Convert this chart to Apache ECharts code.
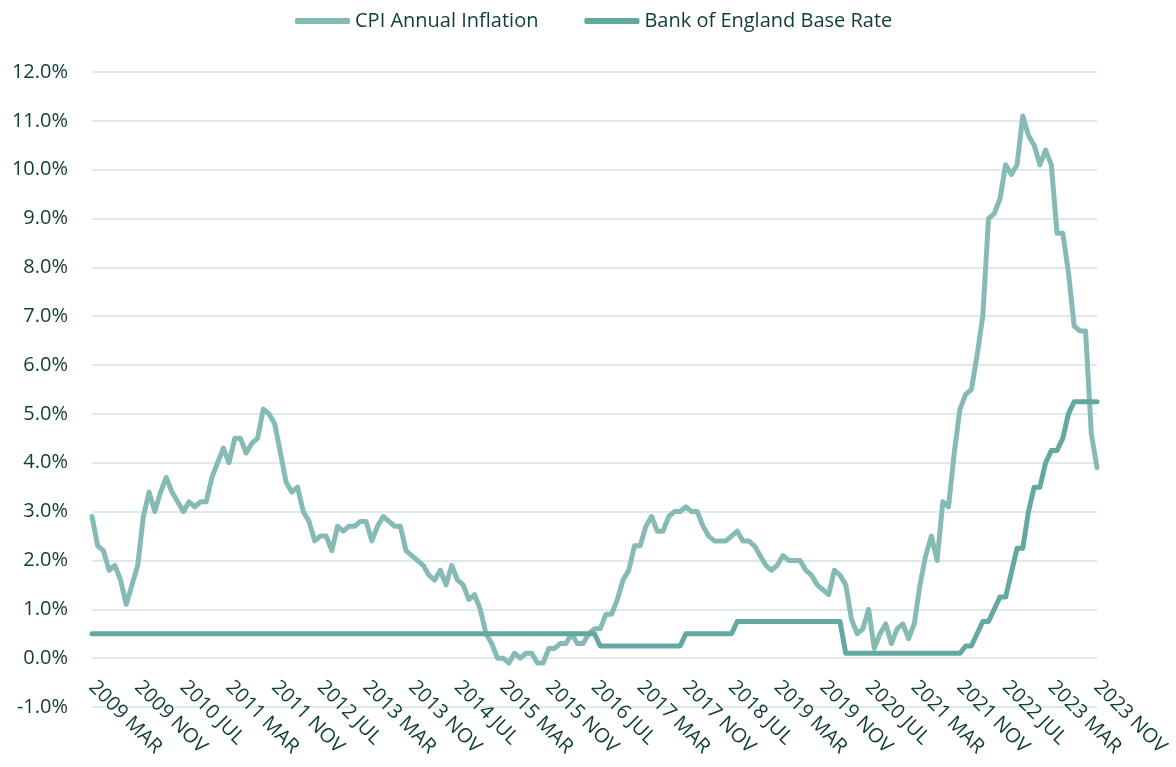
<!DOCTYPE html>
<html>
<head>
<meta charset="utf-8">
<script src="https://cdn.jsdelivr.net/npm/echarts@6/dist/echarts.min.js"></script>
<style>
  html, body { margin: 0; padding: 0; background: #fff; }
  #main { width: 1176px; height: 767px; }
</style>
</head>
<body>
<div id="main"></div>
<script>
// monthly, 2009 MAR .. 2023 NOV
const monthNames = ['JAN', 'FEB', 'MAR', 'APR', 'MAY', 'JUN', 'JUL', 'AUG', 'SEP', 'OCT', 'NOV', 'DEC'];
const startYear = 2009, startMonth = 2, monthCount = 177;

// CPI annual inflation, %
const cpiInflation = [
  2.9, 2.3, 2.2, 1.8, 1.9, 1.6, 1.1, 1.5, 1.9, 2.9,                // 2009 Mar-Dec
  3.4, 3.0, 3.4, 3.7, 3.4, 3.2, 3.0, 3.2, 3.1, 3.2, 3.2, 3.7,      // 2010
  4.0, 4.3, 4.0, 4.5, 4.5, 4.2, 4.4, 4.5, 5.1, 5.0, 4.8, 4.2,      // 2011
  3.6, 3.4, 3.5, 3.0, 2.8, 2.4, 2.5, 2.5, 2.2, 2.7, 2.6, 2.7,      // 2012
  2.7, 2.8, 2.8, 2.4, 2.7, 2.9, 2.8, 2.7, 2.7, 2.2, 2.1, 2.0,      // 2013
  1.9, 1.7, 1.6, 1.8, 1.5, 1.9, 1.6, 1.5, 1.2, 1.3, 1.0, 0.5,      // 2014
  0.3, 0.0, 0.0, -0.1, 0.1, 0.0, 0.1, 0.1, -0.1, -0.1, 0.2, 0.2,   // 2015
  0.3, 0.3, 0.5, 0.3, 0.3, 0.5, 0.6, 0.6, 0.9, 0.9, 1.2, 1.6,      // 2016
  1.8, 2.3, 2.3, 2.7, 2.9, 2.6, 2.6, 2.9, 3.0, 3.0, 3.1, 3.0,      // 2017
  3.0, 2.7, 2.5, 2.4, 2.4, 2.4, 2.5, 2.6, 2.4, 2.4, 2.3, 2.1,      // 2018
  1.9, 1.8, 1.9, 2.1, 2.0, 2.0, 2.0, 1.8, 1.7, 1.5, 1.4, 1.3,      // 2019
  1.8, 1.7, 1.5, 0.8, 0.5, 0.6, 1.0, 0.2, 0.5, 0.7, 0.3, 0.6,      // 2020
  0.7, 0.4, 0.7, 1.5, 2.1, 2.5, 2.0, 3.2, 3.1, 4.2, 5.1, 5.4,      // 2021
  5.5, 6.2, 7.0, 9.0, 9.1, 9.4, 10.1, 9.9, 10.1, 11.1, 10.7, 10.5, // 2022
  10.1, 10.4, 10.1, 8.7, 8.7, 7.9, 6.8, 6.7, 6.7, 4.6, 3.9         // 2023 Jan-Nov
];

// Bank of England base rate, %
const baseRate = [
  0.5, 0.5, 0.5, 0.5, 0.5, 0.5, 0.5, 0.5, 0.5, 0.5,                          // 2009
  0.5, 0.5, 0.5, 0.5, 0.5, 0.5, 0.5, 0.5, 0.5, 0.5, 0.5, 0.5,                // 2010
  0.5, 0.5, 0.5, 0.5, 0.5, 0.5, 0.5, 0.5, 0.5, 0.5, 0.5, 0.5,                // 2011
  0.5, 0.5, 0.5, 0.5, 0.5, 0.5, 0.5, 0.5, 0.5, 0.5, 0.5, 0.5,                // 2012
  0.5, 0.5, 0.5, 0.5, 0.5, 0.5, 0.5, 0.5, 0.5, 0.5, 0.5, 0.5,                // 2013
  0.5, 0.5, 0.5, 0.5, 0.5, 0.5, 0.5, 0.5, 0.5, 0.5, 0.5, 0.5,                // 2014
  0.5, 0.5, 0.5, 0.5, 0.5, 0.5, 0.5, 0.5, 0.5, 0.5, 0.5, 0.5,                // 2015
  0.5, 0.5, 0.5, 0.5, 0.5, 0.5, 0.5, 0.25, 0.25, 0.25, 0.25, 0.25,           // 2016
  0.25, 0.25, 0.25, 0.25, 0.25, 0.25, 0.25, 0.25, 0.25, 0.25, 0.5, 0.5,      // 2017
  0.5, 0.5, 0.5, 0.5, 0.5, 0.5, 0.5, 0.75, 0.75, 0.75, 0.75, 0.75,           // 2018
  0.75, 0.75, 0.75, 0.75, 0.75, 0.75, 0.75, 0.75, 0.75, 0.75, 0.75, 0.75,    // 2019
  0.75, 0.75, 0.1, 0.1, 0.1, 0.1, 0.1, 0.1, 0.1, 0.1, 0.1, 0.1,              // 2020
  0.1, 0.1, 0.1, 0.1, 0.1, 0.1, 0.1, 0.1, 0.1, 0.1, 0.1, 0.25,               // 2021
  0.25, 0.5, 0.75, 0.75, 1.0, 1.25, 1.25, 1.75, 2.25, 2.25, 3.0, 3.5,        // 2022
  3.5, 4.0, 4.25, 4.25, 4.5, 5.0, 5.25, 5.25, 5.25, 5.25, 5.25               // 2023
];

const categories = [];
for (let i = 0; i < monthCount; i++) {
  const m = startMonth + i;
  categories.push((startYear + Math.floor(m / 12)) + ' ' + monthNames[m % 12]);
}

const textColor = '#0f3d38';
const gridColor = '#deeae9';
const fontFamily = '"Open Sans", sans-serif';

const myChart = echarts.init(document.getElementById('main'));
myChart.setOption({
  animation: false,
  color: ['#86bbb5', '#63a9a1'],
  textStyle: { fontFamily: fontFamily },
  legend: {
    top: 6,
    left: 290,
    itemWidth: 55,
    itemHeight: 6,
    itemGap: 46,
    icon: 'roundRect',
    textStyle: { fontSize: 20, color: textColor, fontFamily: fontFamily },
    data: ['CPI Annual Inflation', 'Bank of England Base Rate']
  },
  grid: { left: 92, right: 79, top: 72, bottom: 60, containLabel: false, outerBoundsMode: 'none' },
  xAxis: {
    type: 'category',
    boundaryGap: false,
    data: categories,
    axisLine: { onZero: false, show: false },
    axisTick: { show: false },
    axisLabel: {
      // labels sit just under the 0% line, as in the original
      interval: 7,
      rotate: -45,
      margin: -23,
      fontSize: 20,
      color: textColor,
      fontFamily: fontFamily
    },
    splitLine: { show: false }
  },
  yAxis: {
    type: 'value',
    min: -1,
    max: 12,
    interval: 1,
    axisLine: { show: false },
    axisTick: { show: false },
    axisLabel: {
      margin: 24,
      fontSize: 20,
      color: textColor,
      fontFamily: fontFamily,
      formatter: function (v) { return v.toFixed(1) + '%'; }
    },
    splitLine: { lineStyle: { color: gridColor, width: 2 } }
  },
  series: [
    {
      name: 'CPI Annual Inflation',
      type: 'line',
      data: cpiInflation,
      showSymbol: false,
      symbol: 'none',
      lineStyle: { width: 5, cap: 'round', join: 'round' }
    },
    {
      name: 'Bank of England Base Rate',
      type: 'line',
      data: baseRate,
      showSymbol: false,
      symbol: 'none',
      lineStyle: { width: 5, cap: 'round', join: 'round' }
    }
  ]
});
</script>
</body>
</html>
